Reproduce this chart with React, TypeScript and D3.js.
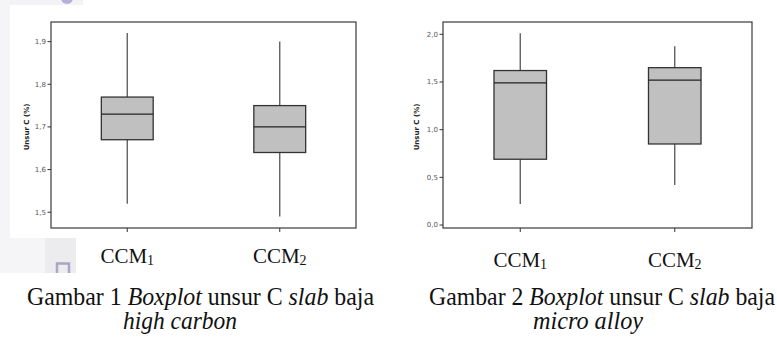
import React from "react";
import * as d3 from "d3";

const width = 777;
const height = 344;

const categories = ["CCM1", "CCM2"];

// Gambar 1: high carbon
const hcLow = [1.52, 1.49];
const hcQ1 = [1.67, 1.64];
const hcMedian = [1.73, 1.7];
const hcQ3 = [1.77, 1.75];
const hcHigh = [1.92, 1.9];
const hcTicks = [1.5, 1.6, 1.7, 1.8, 1.9];

// Gambar 2: micro alloy
const maLow = [0.22, 0.42];
const maQ1 = [0.69, 0.85];
const maMedian = [1.49, 1.52];
const maQ3 = [1.62, 1.65];
const maHigh = [2.01, 1.875];
const maTicks = [0, 0.5, 1, 1.5, 2];

const fmt = (v: number) => d3.format(".1f")(v).replace(".", ",");

type PanelProps = {
  x0: number;
  x1: number;
  domain: [number, number];
  ticks: number[];
  low: number[];
  q1: number[];
  median: number[];
  q3: number[];
  high: number[];
  labelX: number;
  catY: number;
};

const top = 22;
const bottom = 228;

const Panel = ({ x0, x1, domain, ticks, low, q1, median, q3, high, labelX, catY }: PanelProps) => {
  const y = d3.scaleLinear().domain(domain).range([bottom, top]);
  const x = d3.scalePoint().domain(categories).range([x0, x1]).padding(0.5);
  const boxW = x.step() * 0.34;

  return (
    <g>
      <rect x={x0} y={top} width={x1 - x0} height={bottom - top} fill="#fff" stroke="#3a3a3a" strokeWidth={1.2} />
      {ticks.map((t) => (
        <g key={t}>
          <line x1={x0 - 3.5} x2={x0} y1={y(t)} y2={y(t)} stroke="#333" />
          <text
            x={x0 - 5}
            y={y(t)}
            dy="0.35em"
            textAnchor="end"
            fontSize={7}
            fontFamily="DejaVu Sans"
            fill="#555"
          >
            {fmt(t)}
          </text>
        </g>
      ))}
      <text
        transform={`translate(${labelX},${(top + bottom) / 2 + 2}) rotate(-90)`}
        textAnchor="middle"
        fontSize={7}
        fontWeight="bold"
        fontFamily="DejaVu Sans"
        fill="#222"
      >
        Unsur C (%)
      </text>
      {categories.map((c, i) => {
        const cx = x(c) as number;
        return (
          <g key={c}>
            <line x1={cx} x2={cx} y1={bottom} y2={bottom + 4} stroke="#333" />
            <line x1={cx} x2={cx} y1={y(low[i])} y2={y(high[i])} stroke="#555" strokeWidth={1.3} />
            <rect
              x={cx - boxW / 2}
              y={y(q3[i])}
              width={boxW}
              height={y(q1[i]) - y(q3[i])}
              fill="#c0c0c0"
              stroke="#333"
              strokeWidth={1.3}
            />
            <line
              x1={cx - boxW / 2}
              x2={cx + boxW / 2}
              y1={y(median[i])}
              y2={y(median[i])}
              stroke="#222"
              strokeWidth={1.3}
            />
            <text x={cx} y={catY} textAnchor="middle" fontFamily="Liberation Serif" fontSize={21} fill="#111">
              {c.slice(0, 3)}
              <tspan fontSize={14} dy={2}>
                {c.slice(3)}
              </tspan>
            </text>
          </g>
        );
      })}
    </g>
  );
};

const App = () => {
  return (
    <svg
      width={width}
      height={height}
      style={{ position: "absolute", left: 0, top: 0, display: "block", background: "#fff" }}
    >
      {/* faint watermark remnants from the scanned page */}
      <rect x={0} y={0} width={83} height={5} fill="#f3f3f5" />
      <rect x={0} y={0} width={10} height={238} fill="#f5f5f7" />
      <rect x={0} y={238} width={76} height={35} fill="#f5f5f7" />
      <rect x={45} y={238} width={31} height={35} fill="#ececef" />
      <path d="M57,273 V263.5 H69 V273" fill="none" stroke="#aaa6c4" strokeWidth={2.5} />
      <circle cx={67} cy={-2} r={6} fill="#b8b0d8" />

      <Panel
        x0={51}
        x1={356}
        domain={[1.463, 1.946]}
        ticks={hcTicks}
        low={hcLow}
        q1={hcQ1}
        median={hcMedian}
        q3={hcQ3}
        high={hcHigh}
        labelX={28.5}
        catY={263}
      />
      <Panel
        x0={443}
        x1={752}
        domain={[-0.031, 2.129]}
        ticks={maTicks}
        low={maLow}
        q1={maQ1}
        median={maMedian}
        q3={maQ3}
        high={maHigh}
        labelX={419}
        catY={267}
      />

      <g fontFamily="Liberation Serif" fontSize={25} fill="#111">
        <text x={27} y={305} textLength={347} lengthAdjust="spacingAndGlyphs">
          Gambar 1 <tspan fontStyle="italic">Boxplot</tspan> unsur C <tspan fontStyle="italic">slab</tspan> baja
        </text>
        <text x={123} y={329} fontStyle="italic" textLength={114} lengthAdjust="spacingAndGlyphs">
          high carbon
        </text>
        <text x={429} y={305} textLength={346} lengthAdjust="spacingAndGlyphs">
          Gambar 2 <tspan fontStyle="italic">Boxplot</tspan> unsur C <tspan fontStyle="italic">slab</tspan> baja
        </text>
        <text x={533} y={329} fontStyle="italic" textLength={110} lengthAdjust="spacingAndGlyphs">
          micro alloy
        </text>
      </g>
    </svg>
  );
};

export default App;
